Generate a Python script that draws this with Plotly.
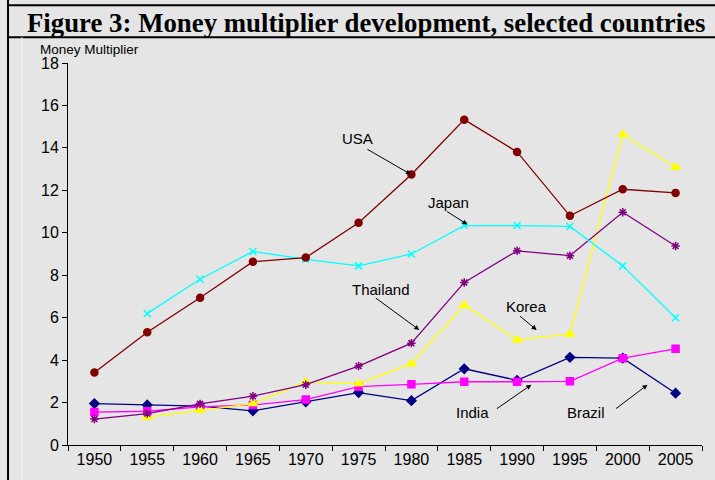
import plotly.graph_objects as go

years = ["1950", "1955", "1960", "1965", "1970", "1975",
         "1980", "1985", "1990", "1995", "2000", "2005"]

usa = [3.42, 5.31, 6.94, 8.64, 8.83, 10.47, 12.75, 15.33, 13.81, 10.80, 12.05, 11.88]
japan = [None, 6.20, 7.81, 9.12, 8.75, 8.44, 9.00, 10.34, 10.34, 10.30, 8.44, 6.00]
thailand = [1.22, 1.48, 1.94, 2.30, 2.84, 3.72, 4.80, 7.66, 9.15, 8.92, 10.97, 9.38]
korea = [None, 1.31, 1.64, 1.95, 2.97, 2.89, 3.83, 6.59, 4.95, 5.22, 14.63, 13.09]
india = [1.55, 1.59, 1.80, 1.89, 2.14, 2.75, 2.86, 2.98, 2.98, 3.00, 4.09, 4.53]
brazil = [1.95, 1.89, 1.83, 1.61, 2.03, 2.47, 2.09, 3.59, 3.05, 4.13, 4.09, 2.44]

BG = "#e5e5e5"

series = [
    ("Brazil", brazil, "#000080", "diamond", 7),
    ("India", india, "#ff00ff", "square", 7),
    ("Korea", korea, "#ffff00", "triangle-up", 8),
    ("Thailand", thailand, "#800080", "asterisk-open", 7),
    ("Japan", japan, "#00ffff", "x-thin-open", 7),
    ("USA", usa, "#800000", "circle", 7),
]

fig = go.Figure()
for name, vals, color, symbol, size in series:
    fig.add_trace(
        go.Scatter(
            x=years,
            y=vals,
            mode="lines+markers",
            name=name,
            line={"color": color, "width": 1.3},
            marker={"color": color, "symbol": symbol, "size": size,
                    "line": {"color": color, "width": 1.5}},
            connectgaps=False,
            showlegend=False,
        )
    )

# country labels and arrows (text position, arrow head, tail offset in px)
labels = [
    ("USA", 4.98, 14.45, 5.99, 12.75, -45, -26),
    ("Japan", 6.71, 11.41, 7.06, 10.39, -22, -14),
    ("Thailand", 5.42, 7.34, 6.15, 5.42, -45, -33),
    ("Korea", 8.17, 6.54, 8.37, 5.42, -18, -15),
    ("India", 7.15, 1.55, 8.27, 2.84, -36, 25),
    ("Brazil", 9.30, 1.55, 10.47, 2.84, -33, 25),
]
annotations = []
for text, tx, ty, hx, hy, ax, ay in labels:
    annotations.append(dict(x=tx, y=ty, xref="x", yref="y", text=text,
                            showarrow=False,
                            font={"family": "Liberation Sans", "size": 15,
                                  "color": "#000000"}))
    annotations.append(dict(x=hx, y=hy, xref="x", yref="y", text="",
                            showarrow=True, arrowhead=2, arrowsize=1,
                            arrowwidth=1, arrowcolor="#000000",
                            ax=ax, ay=ay, standoff=0, startstandoff=0))

annotations.append(dict(
    x=0.4708, y=1.106, xref="paper", yref="paper",
    text="<b>Figure 3: Money multiplier development, selected countries</b>",
    showarrow=False, xanchor="center", yanchor="middle",
    font={"family": "Liberation Serif", "size": 26.8, "color": "#000000"},
))
annotations.append(dict(
    x=-0.0473, y=1.0, xref="paper", yref="paper",
    text="Money Multiplier", showarrow=False, xanchor="left", yanchor="bottom",
    yshift=4,
    font={"family": "Liberation Sans", "size": 13.5, "color": "#000000"},
))

shapes = [
    dict(type="line", xref="paper", yref="paper", x0=-0.0946, x1=1.03,
         y0=1.151, y1=1.151, line={"color": "#000000", "width": 2}),
    dict(type="line", xref="paper", yref="paper", x0=-0.0946, x1=1.03,
         y0=1.0677, y1=1.0677, line={"color": "#000000", "width": 2}),
    dict(type="line", xref="paper", yref="paper", x0=-0.0946, x1=-0.0946,
         y0=-0.1, y1=1.2, line={"color": "#000000", "width": 2}),
    dict(type="line", xref="paper", yref="paper", x0=-0.0726, x1=-0.0726,
         y0=-0.1, y1=1.0677, line={"color": "#f2f2f2", "width": 1}),
]

fig.update_layout(
    width=715,
    height=480,
    paper_bgcolor=BG,
    plot_bgcolor=BG,
    margin={"l": 68, "r": 13, "t": 63, "b": 33},
    font={"family": "Liberation Sans", "size": 16, "color": "#000000"},
    annotations=annotations,
    shapes=shapes,
    xaxis={
        "type": "category",
        "range": [-0.5, 11.5],
        "tickson": "boundaries",
        "ticks": "outside",
        "ticklen": 5,
        "tickcolor": "#000000",
        "showline": True,
        "linecolor": "#000000",
        "linewidth": 1,
        "showgrid": False,
        "zeroline": False,
        "tickfont": {"size": 16},
    },
    yaxis={
        "range": [0, 18],
        "dtick": 2,
        "ticks": "outside",
        "ticklen": 5,
        "tickcolor": "#000000",
        "showline": True,
        "linecolor": "#000000",
        "linewidth": 1,
        "showgrid": False,
        "zeroline": False,
        "tickfont": {"size": 16},
    },
)

fig.write_html(
    "out.html",
    config={"displayModeBar": False},
    post_script="document.body.style.margin='0';"
                "document.body.style.overflow='hidden';"
                "document.documentElement.style.overflow='hidden';",
)
